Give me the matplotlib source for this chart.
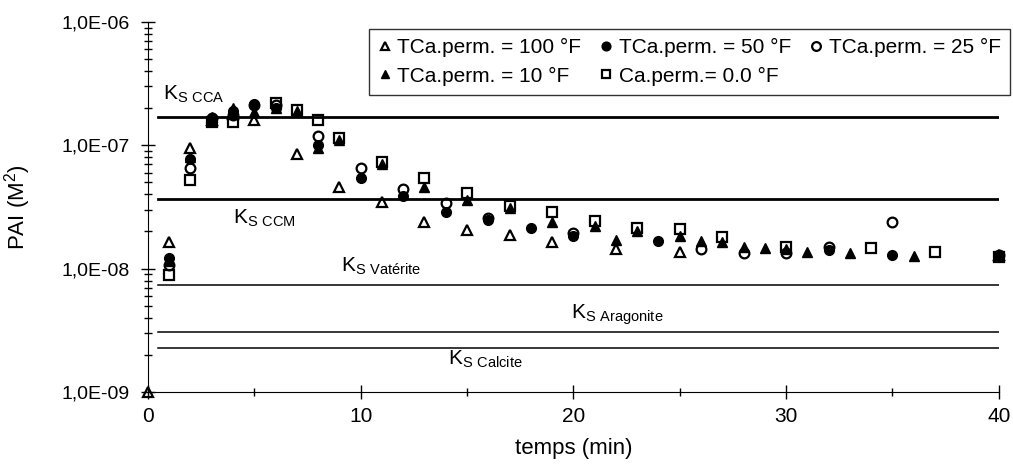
import numpy as np
import matplotlib.pyplot as plt
from matplotlib.ticker import FuncFormatter, LogLocator, MultipleLocator, NullFormatter

plt.rcParams['font.family'] = ['Liberation Sans', 'DejaVu Sans']
plt.rcParams['mathtext.default'] = 'regular'

# TCa.perm. = 100 °F (open triangles)
t_100 = [0, 1, 2, 3, 4, 5, 7, 9, 11, 13, 15, 17, 19, 22, 25, 40]
pai_100 = [1.0e-9, 1.63e-8, 9.5e-8, 1.6e-7, 1.8e-7, 1.6e-7, 8.5e-8, 4.6e-8, 3.44e-8,
           2.37e-8, 2.07e-8, 1.89e-8, 1.63e-8, 1.43e-8, 1.37e-8, 1.3e-8]

# TCa.perm. = 50 °F (filled circles)
t_50 = [1, 2, 3, 4, 5, 6, 8, 10, 12, 14, 16, 18, 20, 24, 32, 35, 40]
pai_50 = [1.23e-8, 7.7e-8, 1.6e-7, 1.9e-7, 2.15e-7, 2.0e-7, 1.0e-7, 5.4e-8, 3.85e-8,
          2.9e-8, 2.5e-8, 2.15e-8, 1.85e-8, 1.66e-8, 1.42e-8, 1.3e-8, 1.25e-8]

# TCa.perm. = 25 °F (open circles)
t_25 = [1, 2, 3, 4, 5, 6, 8, 10, 12, 14, 16, 20, 26, 28, 30, 32, 35, 40]
pai_25 = [1.07e-8, 6.5e-8, 1.65e-7, 1.75e-7, 2.1e-7, 2.1e-7, 1.18e-7, 6.5e-8, 4.4e-8,
          3.4e-8, 2.55e-8, 1.95e-8, 1.43e-8, 1.35e-8, 1.35e-8, 1.5e-8, 2.37e-8, 1.3e-8]

# TCa.perm. = 10 °F (filled triangles)
t_10 = [1, 2, 3, 4, 5, 6, 7, 8, 9, 11, 13, 15, 17, 19, 21, 22, 23, 25, 26, 27, 28,
        29, 30, 31, 33, 36, 40]
pai_10 = [1.15e-8, 8.0e-8, 1.7e-7, 2.0e-7, 1.85e-7, 2.0e-7, 1.9e-7, 9.5e-8, 1.1e-7,
          7.0e-8, 4.6e-8, 3.6e-8, 3.1e-8, 2.4e-8, 2.2e-8, 1.72e-8, 2.0e-8, 1.85e-8,
          1.66e-8, 1.63e-8, 1.5e-8, 1.48e-8, 1.45e-8, 1.37e-8, 1.35e-8, 1.26e-8, 1.3e-8]

# Ca.perm. = 0.0 °F (open squares)
t_0 = [1, 2, 3, 4, 6, 7, 8, 9, 11, 13, 15, 17, 19, 21, 23, 25, 27, 30, 34, 37, 40]
pai_0 = [8.8e-9, 5.2e-8, 1.55e-7, 1.55e-7, 2.2e-7, 1.93e-7, 1.6e-7, 1.14e-7, 7.3e-8,
         5.4e-8, 4.07e-8, 3.2e-8, 2.9e-8, 2.45e-8, 2.15e-8, 2.1e-8, 1.79e-8, 1.5e-8,
         1.48e-8, 1.37e-8, 1.25e-8]

# solubility products
ks_names = ['S CCA', 'S CCM', 'S Vatérite', 'S Aragonite', 'S Calcite']
ks_values = [1.69e-7, 3.64e-8, 7.3e-9, 3.08e-9, 2.28e-9]
ks_label_x = [0.7, 4.0, 9.1, 19.9, 14.1]
ks_label_y = [2.6e-7, 2.55e-8, 1.04e-8, 4.2e-9, 1.85e-9]
ks_widths = [2.0, 2.0, 1.1, 1.1, 1.1]


def yfmt(v, pos):
    e = int(round(np.log10(v)))
    return '1,0E%+03d' % e if e >= 0 else '1,0E-%02d' % (-e)


if __name__ == '__main__':
    fig = plt.figure(figsize=(10.13, 4.65), dpi=100)
    ax = fig.add_axes([0.146, 0.157, 0.840, 0.796])

    for v, w in zip(ks_values, ks_widths):
        ax.axhline(v, xmin=0.012, xmax=1.0, color='black', lw=w, zorder=1)
    for name, x, y in zip(ks_names, ks_label_x, ks_label_y):
        ax.text(x, y, 'K$_{' + name.replace(' ', '\\ ') + '}$', fontsize=15,
                ha='left', va='center')

    ms = 7
    h100, = ax.plot(t_100, pai_100, ls='none', marker='^', ms=ms, mfc='none',
                    mec='black', mew=1.6, clip_on=False, label='TCa.perm. = 100 °F')
    h0, = ax.plot(t_0, pai_0, ls='none', marker='s', ms=ms, mfc='none',
                  mec='black', mew=1.6, clip_on=False, label='Ca.perm.= 0.0 °F')
    h25, = ax.plot(t_25, pai_25, ls='none', marker='o', ms=ms, mfc='none',
                   mec='black', mew=1.6, clip_on=False, label='TCa.perm. = 25 °F')
    h50, = ax.plot(t_50, pai_50, ls='none', marker='o', ms=ms, mfc='black',
                   mec='black', clip_on=False, label='TCa.perm. = 50 °F')
    h10, = ax.plot(t_10, pai_10, ls='none', marker='^', ms=ms, mfc='black',
                   mec='black', clip_on=False, label='TCa.perm. = 10 °F')

    ax.set_yscale('log')
    ax.set_ylim(1e-9, 1e-6)
    ax.set_xlim(0, 40)
    ax.yaxis.set_major_formatter(FuncFormatter(yfmt))
    ax.yaxis.set_minor_locator(LogLocator(base=10, subs=np.arange(2, 10)))
    ax.yaxis.set_minor_formatter(NullFormatter())
    ax.xaxis.set_major_locator(MultipleLocator(10))
    ax.xaxis.set_minor_locator(MultipleLocator(5))

    ax.tick_params(which='major', direction='inout', length=10, width=1,
                   labelsize=15, pad=6)
    ax.tick_params(axis='y', which='major', labelsize=14, pad=8)
    ax.tick_params(which='minor', direction='inout', length=6, width=1)
    ax.spines['top'].set_visible(False)
    ax.spines['right'].set_visible(False)

    ax.set_xlabel('temps (min)', fontsize=16)
    ax.xaxis.set_label_coords(0.5, -0.125)
    ax.set_ylabel('PAI (M$^2$)', fontsize=16)
    ax.yaxis.set_label_coords(-0.135, 0.5)

    leg = ax.legend(handles=[h100, h10, h50, h0, h25], ncol=3, fontsize=15,
                    loc='upper right', bbox_to_anchor=(1.013, 0.981),
                    borderaxespad=0.0,
                    frameon=True, fancybox=False, edgecolor='black',
                    handlelength=0.6, handletextpad=0.3, columnspacing=0.9,
                    borderpad=0.45, labelspacing=0.45, markerscale=0.9)
    leg.get_frame().set_linewidth(1.0)

    plt.savefig('out.png', dpi=100)
